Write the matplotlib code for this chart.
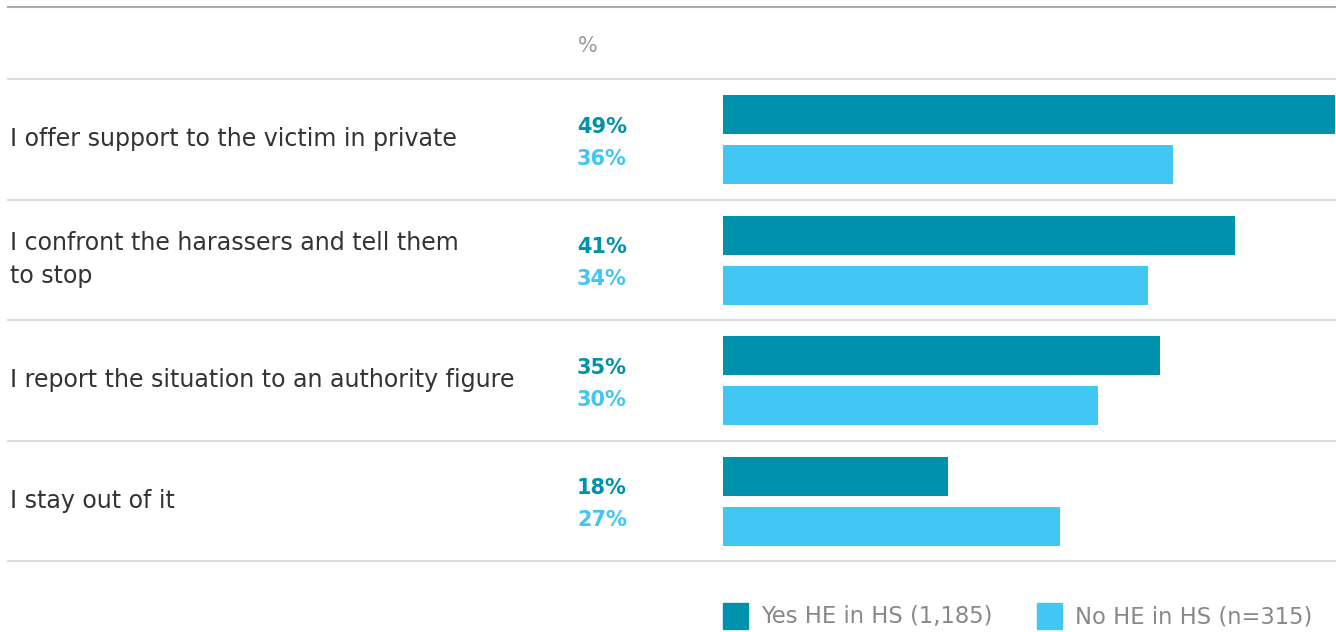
import matplotlib.pyplot as plt
from matplotlib.lines import Line2D

# data
categories = [
    "I offer support to the victim in private",
    "I confront the harassers and tell them\nto stop",
    "I report the situation to an authority figure",
    "I stay out of it",
]
yes_he = [49, 41, 35, 18]
no_he = [36, 34, 30, 27]
series_names = ["Yes HE in HS (1,185)", "No HE in HS (n=315)"]

dark = "#0092AC"
light = "#42C6F4"

W, H = 1336, 632
plt.rcParams['font.family'] = ['DejaVu Sans']
fig = plt.figure(figsize=(W / 100, H / 100), dpi=100)


def fx(x):
    return x / W


def fy(y):
    return 1 - y / H


row_top, row_h = 79, 120.5
ax = fig.add_axes([fx(723), fy(row_top + 4 * row_h), fx(W - 723), (4 * row_h) / H])
ax.set_xlim(0, 49.05)
ax.set_ylim(4, 0)
ax.axis('off')

for i in range(len(categories)):
    ax.barh(i + 0.295, yes_he[i], height=0.324, color=dark)
    ax.barh(i + 0.71, no_he[i], height=0.324, color=light)

    yc = row_top + row_h * (i + 0.5)
    fig.text(fx(10), fy(yc), categories[i], fontsize=17.1, color="#333333",
             va='center', ha='left', linespacing=1.45)
    fig.text(fx(577), fy(yc - 12.5), f"{yes_he[i]}%", fontsize=15, color=dark,
             fontweight='bold', va='center', ha='left')
    fig.text(fx(577), fy(yc + 19.5), f"{no_he[i]}%", fontsize=15, color=light,
             fontweight='bold', va='center', ha='left')

# separator lines
fig.add_artist(Line2D([fx(8), 1], [fy(7), fy(7)], color="#aaaaaa", lw=1.5))
for i in range(5):
    y = row_top + row_h * i
    fig.add_artist(Line2D([fx(8), 1], [fy(y), fy(y)], color="#dddddd", lw=1.5))

fig.text(fx(578), fy(46), "%", fontsize=15, color="#999999", va='center', ha='left')

# legend
for x0, c, name in [(723, dark, series_names[0]), (1037, light, series_names[1])]:
    fig.patches.append(plt.Rectangle((fx(x0), fy(629)), fx(25), 26 / H,
                                     transform=fig.transFigure, color=c))
    fig.text(fx(x0 + 38), fy(617), name, fontsize=16.3, color="#888888",
             va='center', ha='left')

plt.savefig('out.png', dpi=100)
